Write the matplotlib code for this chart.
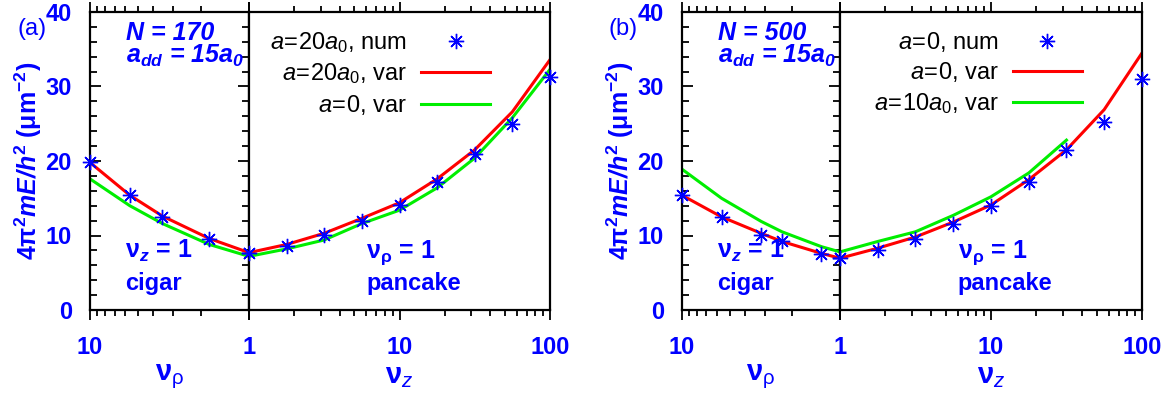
import numpy as np
import matplotlib
matplotlib.use('Agg')
import matplotlib.pyplot as plt
from matplotlib.ticker import LogLocator, NullFormatter, MultipleLocator

plt.rcParams['font.family'] = ['Liberation Sans', 'DejaVu Sans']
plt.rcParams['mathtext.fontset'] = 'custom'
plt.rcParams['mathtext.rm'] = 'Liberation Sans'
plt.rcParams['mathtext.it'] = 'Liberation Sans:italic'
plt.rcParams['mathtext.bf'] = 'Liberation Sans:bold'
plt.rcParams['mathtext.bfit'] = 'Liberation Sans:italic:bold'

# ---- data ----
nu_z = [1, 1.78, 3.16, 5.62, 10, 17.8, 31.6, 56.2, 100]

# panel (a): N = 170
nu_rho_a = [10, 5.62, 3.5, 1.78, 1]
num_a_left = [19.8, 15.4, 12.5, 9.5, 7.6]
red_a_left = [19.8, 15.4, 12.6, 9.6, 7.7]
green_a_left = [17.6, 14.0, 11.6, 8.8, 7.2]
num_a_right = [7.6, 8.65, 10.1, 12.0, 14.1, 17.2, 20.9, 24.9, 31.3]
red_a_right = [7.7, 8.8, 10.3, 12.3, 14.4, 17.6, 21.5, 26.6, 33.6]
green_a_right = [7.2, 8.2, 9.4, 11.6, 13.4, 16.4, 20.4, 25.8, 32.3]

# panel (b): N = 500
nu_rho_b = [10, 5.62, 3.16, 2.33, 1.31, 1]
num_b_left = [15.5, 12.5, 10.1, 9.2, 7.5, 6.95]
red_b_left = [15.4, 12.5, 10.3, 9.2, 7.6, 6.95]
green_b_left = [18.9, 15.0, 11.9, 10.5, 8.5, 7.8]
num_b_right = [6.95, 8.06, 9.5, 11.6, 14.0, 17.2, 21.5, 25.2, 31.0]
red_b_right = [6.95, 8.3, 9.8, 11.8, 14.1, 17.5, 21.5, 26.9, 34.5]
nu_z_green_b = [1, 1.78, 3.16, 5.62, 10, 17.8, 31.6]
green_b_right = [7.8, 9.2, 10.5, 12.7, 15.2, 18.4, 22.8]

labels_a = [r'$\mathit{a\!=\!20a}_\mathit{0}$, num', r'$\mathit{a\!=\!20a}_\mathit{0}$, var', r'$\mathit{a\!=\!0}$, var']
labels_b = [r'$\mathit{a\!=\!0}$, num', r'$\mathit{a\!=\!0}$, var', r'$\mathit{a\!=\!10a}_\mathit{0}$, var']

BLUE = '#0000ff'
RED = '#ff0000'
GREEN = '#00ee00'
W, H = 1175, 398

fig = plt.figure(figsize=(W / 100, H / 100), dpi=100)


def px_axes(x0, x1, y_top=12, y_bot=310):
    return fig.add_axes([x0 / W, (H - y_bot) / H, (x1 - x0) / W, (y_bot - y_top) / H])


def style_common(ax):
    ax.set_xscale('log')
    ax.set_ylim(0, 40)
    for s in ax.spines.values():
        s.set_linewidth(1.6)
    ax.xaxis.set_minor_locator(LogLocator(base=10, subs=np.arange(2, 10)))
    ax.xaxis.set_minor_formatter(NullFormatter())
    ax.tick_params(axis='x', which='both', direction='out', top=True, bottom=True,
                   labelsize=17, labelcolor=BLUE, pad=12, width=1.3)
    ax.tick_params(axis='x', which='major', length=7)
    ax.tick_params(axis='x', which='minor', length=4)


def panel(xl, xm, xr, rho, num_l, red_l, green_l, num_r, red_r, nz_green, green_r,
          labels, n_text, tag):
    axl = px_axes(xl, xm)
    axr = px_axes(xm, xr)
    style_common(axl)
    style_common(axr)

    axl.set_xlim(10, 1)
    axl.set_xticks([10, 1])
    axl.set_xticklabels(['10', ''])
    axr.set_xlim(1, 100)
    axr.set_xticks([1, 10, 100])
    axr.set_xticklabels(['1', '10', '100'])

    axl.yaxis.set_major_locator(MultipleLocator(10))
    axl.yaxis.set_minor_locator(MultipleLocator(2))
    axl.tick_params(axis='y', which='both', direction='in', left=True, right=True,
                    labelsize=17, labelcolor=BLUE, pad=13, width=1.3)
    axl.tick_params(axis='y', which='major', length=8)
    axl.tick_params(axis='y', which='minor', length=5)
    axr.tick_params(axis='y', which='both', left=False, right=False, labelleft=False)

    for a in (axl, axr):
        plt.setp(a.get_xticklabels(), fontweight='bold')
    plt.setp(axl.get_yticklabels(), fontweight='bold')

    # curves
    axl.plot(rho, red_l, color=RED, lw=2.2, zorder=2)
    axl.plot(rho, green_l, color=GREEN, lw=2.2, zorder=2)
    axl.plot(rho, num_l, ls='none', marker=(8, 2, 0), ms=11, mew=1.0, color=BLUE,
             zorder=3, clip_on=False)
    hr, = axr.plot(nu_z, red_r, color=RED, lw=2.2, zorder=2)
    hg, = axr.plot(nz_green, green_r, color=GREEN, lw=2.2, zorder=2)
    hn, = axr.plot(nu_z, num_r, ls='none', marker=(8, 2, 0), ms=11, mew=1.0, color=BLUE,
                   zorder=3, clip_on=False)

    axr.legend([hn, hr, hg], labels, loc='upper right', bbox_to_anchor=(0.80, 0.94),
               markerfirst=False, frameon=False, fontsize=17, handlelength=2.9,
               handletextpad=0.6, labelspacing=0.28, borderpad=0, borderaxespad=0)

    # labels
    axl.set_ylabel(r'4π$^\mathbf{2}\mathbfit{mE/h}^\mathbf{2}$ (μm$^\mathbf{-2}$)',
                   color=BLUE, fontsize=18, fontweight='bold', labelpad=1)
    axl.set_xlabel(r'ν$_\mathrm{ρ}$', color=BLUE, fontsize=21, fontweight='bold', labelpad=2)
    axr.set_xlabel(r'ν$_\mathit{z}$', color=BLUE, fontsize=21, fontweight='bold', labelpad=2)

    axl.text(0.226, 0.905, n_text, transform=axl.transAxes, color=BLUE, fontsize=18,
             fontweight='bold', style='italic', va='baseline')
    axl.text(0.226, 0.828, r'$\mathbfit{a}_\mathbfit{dd}$ = $\mathbfit{15a}_\mathbfit{0}$',
             transform=axl.transAxes, color=BLUE, fontsize=18, fontweight='bold',
             style='italic', va='baseline')
    axl.text(0.22, 0.174, r'ν$_\mathbfit{z}$ = 1', transform=axl.transAxes, color=BLUE,
             fontsize=18, fontweight='bold', va='baseline')
    axl.text(0.22, 0.067, 'cigar', transform=axl.transAxes, color=BLUE, fontsize=17,
             fontweight='bold', va='baseline')
    axr.text(0.39, 0.174, r'ν$_\mathbf{ρ}$ = 1', transform=axr.transAxes, color=BLUE,
             fontsize=18, fontweight='bold', va='baseline')
    axr.text(0.39, 0.067, 'pancake', transform=axr.transAxes, color=BLUE, fontsize=17,
             fontweight='bold', va='baseline')

    fig.text(tag[1] / W, 1 - 29 / H, tag[0], color=BLUE, fontsize=17,
             ha='center', va='center')


panel(90, 249, 550, nu_rho_a, num_a_left, red_a_left, green_a_left,
      num_a_right, red_a_right, nu_z, green_a_right, labels_a, 'N = 170', ('(a)', 32))
panel(682, 840, 1142, nu_rho_b, num_b_left, red_b_left, green_b_left,
      num_b_right, red_b_right, nu_z_green_b, green_b_right, labels_b, 'N = 500', ('(b)', 623))

fig.savefig('out.png', dpi=100)
